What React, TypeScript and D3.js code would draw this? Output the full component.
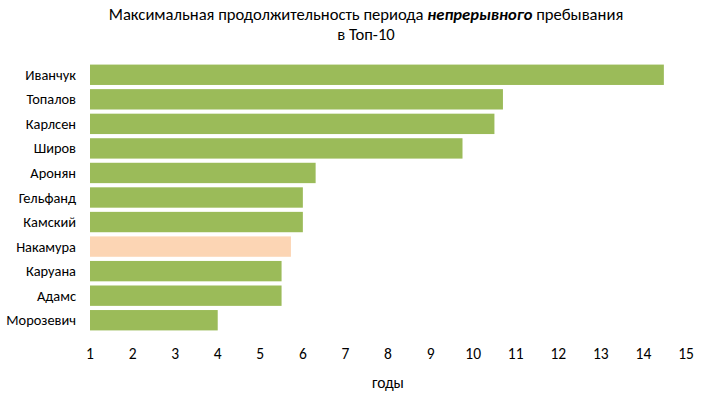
import * as d3 from "d3";

const players = ["Иванчук", "Топалов", "Карлсен", "Широв", "Аронян", "Гельфанд", "Камский", "Накамура", "Каруана", "Адамс", "Морозевич"];
const years = [14.48, 10.7, 10.5, 9.75, 6.3, 6.0, 6.0, 5.72, 5.5, 5.5, 4.0];
const highlighted = ["Накамура"];
const xTicks = [1, 2, 3, 4, 5, 6, 7, 8, 9, 10, 11, 12, 13, 14, 15];

const FONT = "Carlito, Calibri, Lato, 'Open Sans', sans-serif";

export default function App() {
    const width = 701;
    const height = 395;

    const xScale = d3.scaleLinear().domain([1, 15]).range([90, 686]);
    const yScale = d3
        .scaleBand()
        .domain(players)
        .range([62.5, 332.5])
        .paddingInner(0.17)
        .paddingOuter(0.085);

    return (
        <svg
            width={width}
            height={height}
            style={{ position: "absolute", left: 0, top: 0, fontFamily: FONT }}
        >
            <rect width={width} height={height} fill="#fff" />
            <text x={366} y={20} textAnchor="middle" fontSize="16.6" fill="#000">
                Максимальная продолжительность периода{" "}
                <tspan fontWeight="bold" fontStyle="italic">непрерывного</tspan> пребывания
            </text>
            <text x={366} y={40} textAnchor="middle" fontSize="16.6" fill="#000">
                в Топ-10
            </text>

            {players.map((p, i) => {
                const y = yScale(p) ?? 0;
                return (
                    <g key={p}>
                        <rect
                            x={xScale(1)}
                            y={y}
                            width={xScale(years[i]) - xScale(1)}
                            height={yScale.bandwidth()}
                            fill={highlighted.includes(p) ? "#FCD5B4" : "#9BBB59"}
                        />
                        <text
                            x={76}
                            y={y + yScale.bandwidth() / 2}
                            textAnchor="end"
                            dominantBaseline="central"
                            fontSize="14.4"
                            fill="#000"
                        >
                            {p}
                        </text>
                    </g>
                );
            })}

            {xTicks.map((t) => (
                <text
                    key={t}
                    x={xScale(t)}
                    y={359}
                    textAnchor="middle"
                    fontSize="15.5"
                    fill="#000"
                >
                    {t}
                </text>
            ))}
            <text x={388} y={388} textAnchor="middle" fontSize="15.5" fill="#000">
                годы
            </text>
        </svg>
    );
}
